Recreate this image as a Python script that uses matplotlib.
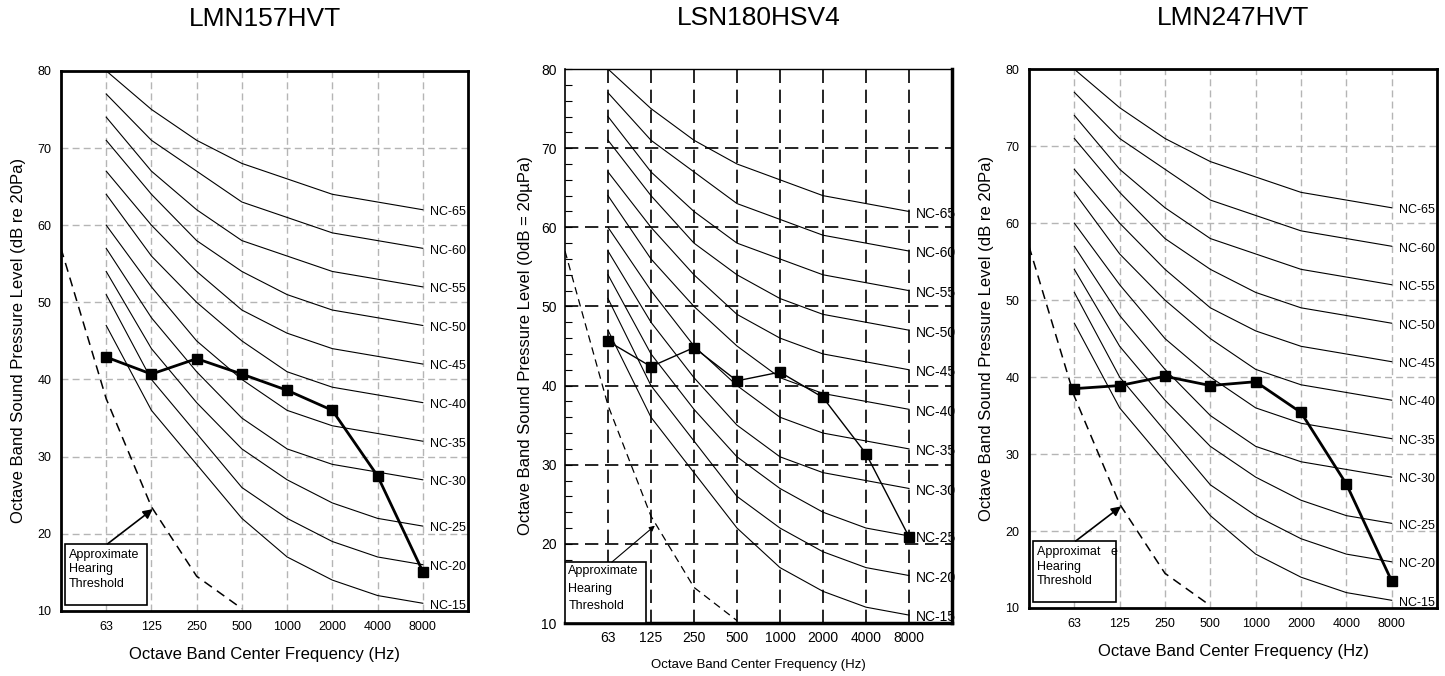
import numpy as np
import matplotlib
matplotlib.use('Agg')
import matplotlib.pyplot as plt
from matplotlib import font_manager
from matplotlib.patches import Rectangle

# fuente estrecha si existe
nombres = {f.name for f in font_manager.fontManager.ttflist}
fuente = 'Liberation Sans Narrow' if 'Liberation Sans Narrow' in nombres else 'Liberation Sans'
plt.rcParams['font.family'] = [fuente, 'DejaVu Sans']

# bandas de octava (31.5 solo para la curva del umbral)
bandas = ['31.5', '63', '125', '250', '500', '1000', '2000', '4000', '8000']
etiquetas_x = bandas[1:]

# curvas NC (63 ... 8000 Hz)
nc_nombres = ['NC-15', 'NC-20', 'NC-25', 'NC-30', 'NC-35', 'NC-40',
              'NC-45', 'NC-50', 'NC-55', 'NC-60', 'NC-65']
nc_valores = [
    [47, 36, 29, 22, 17, 14, 12, 11],
    [51, 40, 33, 26, 22, 19, 17, 16],
    [54, 44, 37, 31, 27, 24, 22, 21],
    [57, 48, 41, 35, 31, 29, 28, 27],
    [60, 52, 45, 40, 36, 34, 33, 32],
    [64, 56, 50, 45, 41, 39, 38, 37],
    [67, 60, 54, 49, 46, 44, 43, 42],
    [71, 64, 58, 54, 51, 49, 48, 47],
    [74, 67, 62, 58, 56, 54, 53, 52],
    [77, 71, 67, 63, 61, 59, 58, 57],
    [80, 75, 71, 68, 66, 64, 63, 62],
]

# umbral de audicion aproximado (31.5 ... 500 Hz)
umbral_bandas = ['31.5', '63', '125', '250', '500']
umbral_valores = [57, 37.5, 23.5, 14.5, 10.3]

# niveles medidos de cada equipo
titulos = ['LMN157HVT', 'LSN180HSV4', 'LMN247HVT']
lmn157 = [42.9, 40.7, 42.7, 40.7, 38.6, 36.0, 27.5, 15.1]
lsn180 = [45.6, 42.4, 44.8, 40.6, 41.7, 38.5, 31.4, 20.9]
lmn247 = [38.5, 38.9, 40.1, 38.9, 39.4, 35.4, 26.1, 13.5]
ylabels = ['Octave Band Sound Pressure Level (dB re 20Pa)',
           'Octave Band Sound Pressure Level (0dB = 20\u00b5Pa)',
           'Octave Band Sound Pressure Level (dB re 20Pa)']
textos_umbral = ['Approximate\nHearing\nThreshold',
                 'Approximate\nHearing\nThreshold',
                 'Approximat   e\nHearing\nThreshold']

x_bandas = np.arange(1, len(bandas))
x_umbral = [bandas.index(b) for b in umbral_bandas]

fig = plt.figure(figsize=(14.45, 6.76), dpi=100)
posiciones = [[0.0422, 0.0962, 0.2817, 0.799],
              [0.391, 0.0784, 0.2678, 0.8195],
              [0.7121, 0.1006, 0.2824, 0.797]]
datos = [lmn157, lsn180, lmn247]

for i in range(3):
    ax = fig.add_axes(posiciones[i])
    central = (i == 1)
    ax.set_xlim(0, 9)
    ax.set_ylim(10, 80)
    ax.set_xticks(x_bandas)
    ax.set_xticklabels(etiquetas_x)
    ax.set_yticks(range(10, 81, 10))

    # rejilla
    if central:
        gcol, glw, gdash = 'black', 1.2, (8, 4)
    else:
        gcol, glw, gdash = '#b5b5b5', 1.0, (5, 3)
    for xv in x_bandas:
        ax.axvline(xv, color=gcol, lw=glw, dashes=gdash, zorder=1)
    for yv in range(20, 80, 10):
        ax.axhline(yv, color=gcol, lw=glw, dashes=gdash, zorder=1)

    # curvas NC
    fs_nc = 10 if central else 9
    for nombre, vals in zip(nc_nombres, nc_valores):
        ax.plot(x_bandas, vals, color='black', lw=0.8, zorder=2)
        ax.text(x_bandas[-1] + 0.15, vals[-1] - 0.3, nombre, fontsize=fs_nc,
                va='center', ha='left', zorder=3)

    # umbral
    ax.plot(x_umbral, umbral_valores, color='black', lw=0.9 if central else 1.1,
            dashes=(6, 4), zorder=2)

    # datos medidos
    ax.plot(x_bandas, datos[i], color='black', lw=1.0 if central else 2.0,
            marker='s', markersize=7 if central else 7.5, zorder=4)

    # caja del umbral
    if central:
        caja = (0.0, 10.0, 1.88, 7.7)
        flecha = ((1.09, 17.7), (2.09, 22.3))
        fs_caja, esp = 9, 1.6
        tx, ty = 0.08, 17.3
    else:
        caja = (0.08, 10.8, 1.83, 7.9)
        flecha = ((1.03, 18.7), (2.03, 23.2))
        fs_caja, esp = 9, 1.25
        tx, ty = 0.18, 18.0
    ax.add_patch(Rectangle((caja[0], caja[1]), caja[2], caja[3], fill=True,
                           facecolor='white', edgecolor='black', lw=1.2, zorder=5))
    ax.text(tx, ty, textos_umbral[i], fontsize=fs_caja, va='top', ha='left',
            linespacing=esp, zorder=6)
    ax.annotate('', xy=flecha[1], xytext=flecha[0],
                arrowprops=dict(arrowstyle='-|>', color='black',
                                lw=0.8 if central else 1.2,
                                mutation_scale=8 if central else 14,
                                shrinkA=0, shrinkB=0), zorder=6)

    # ejes y textos
    if central:
        ax.spines['left'].set_linewidth(1.2)
        ax.spines['top'].set_linewidth(1.0)
        ax.spines['right'].set_linewidth(2.5)
        ax.spines['bottom'].set_linewidth(2.5)
        ax.set_yticks(range(10, 81, 2), minor=True)
        ax.tick_params(axis='y', which='both', direction='in', length=5,
                       width=0.8, labelsize=10, pad=6)
        ax.tick_params(axis='x', length=0, labelsize=10, pad=6)
        ax.set_xlabel('Octave Band Center Frequency (Hz)', fontsize=9.5, labelpad=10)
        ax.set_ylabel(ylabels[i], fontsize=12, labelpad=6)
    else:
        for s in ax.spines.values():
            s.set_linewidth(2.0)
        ax.tick_params(axis='both', length=0, labelsize=9, pad=7)
        ax.set_xlabel('Octave Band Center Frequency (Hz)', fontsize=12, labelpad=10)
        ax.set_ylabel(ylabels[i], fontsize=12, labelpad=8)
    ax.set_title(titulos[i], fontsize=19, pad=32)

fig.savefig('out.png', dpi=100)
